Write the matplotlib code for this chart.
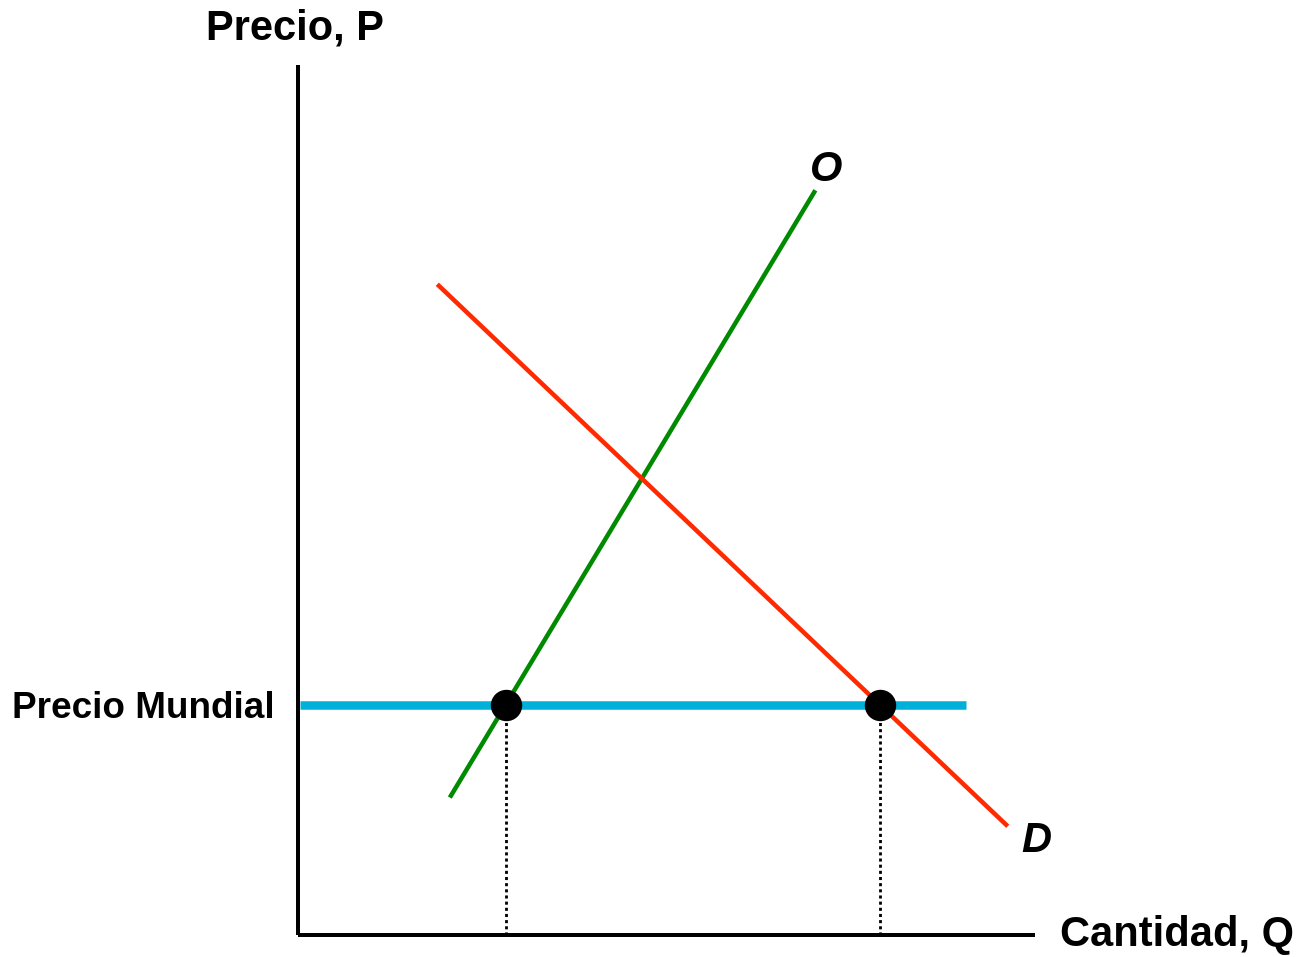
import matplotlib
matplotlib.use("Agg")
import matplotlib.pyplot as plt

# ---- data (arbitrary units: Q 0..100, P 0..100) ----
supply_q = [20.6, 70.2]
supply_p = [15.8, 85.6]
demand_q = [18.9, 96.3]
demand_p = [74.8, 12.5]
world_price = 26.4
world_q = [0.3, 90.6]
imports_q = [28.2, 79.0]   # domestic supply / demand at world price
axis_max_q = 100
axis_max_p = 100

plt.rcParams['font.family'] = ['Liberation Sans', 'DejaVu Sans']

W, H = 1305, 957
fig = plt.figure(figsize=(W / 100, H / 100), dpi=100)
ax = fig.add_axes([0, 0, 1, 1])
sx, sy = 7.37, 8.7
ox, oy = 298, 935
ax.set_xlim(-ox / sx, (W - ox) / sx)
ax.set_ylim(-(H - oy) / sy, oy / sy)
ax.axis('off')

px = 0.72  # points per pixel

# axes
ax.plot([0, 0], [0, axis_max_p], color='black', lw=4 * px, solid_capstyle='butt', zorder=2)
ax.plot([0, axis_max_q], [0, 0], color='black', lw=4 * px, solid_capstyle='butt', zorder=2)

# world price line
ax.plot(world_q, [world_price, world_price], color='#00B0D8', lw=8.5 * px,
        solid_capstyle='butt', zorder=3)

# supply and demand
ax.plot(supply_q, supply_p, color='#008A00', lw=4.5 * px, solid_capstyle='butt', zorder=4)
ax.plot(demand_q, demand_p, color='#FF2A00', lw=4.5 * px, solid_capstyle='butt', zorder=4)

# dotted droplines
for q in imports_q:
    ax.plot([q, q], [0, world_price], color='black', lw=2.8 * px,
            linestyle=(0, (1.1, 1.1)), zorder=2)

# dots
ax.plot(imports_q, [world_price] * len(imports_q), 'o', color='black',
        markersize=30 * px, zorder=6)

# labels
ax.text(-0.4, 102.9, 'Precio, P', fontsize=30, fontweight='bold', ha='center', va='baseline')
ax.text(103.4, -1.3, 'Cantidad, Q', fontsize=30, fontweight='bold', ha='left', va='baseline')
ax.text(-3.2, 24.9, 'Precio Mundial', fontsize=26.6, fontweight='bold', ha='right', va='baseline')
ax.text(69.5, 86.7, 'O', fontsize=30, fontweight='bold', fontstyle='italic', ha='left', va='baseline')
ax.text(98.2, 9.5, 'D', fontsize=30, fontweight='bold', fontstyle='italic', ha='left', va='baseline')

fig.savefig('out.png', dpi=100)
